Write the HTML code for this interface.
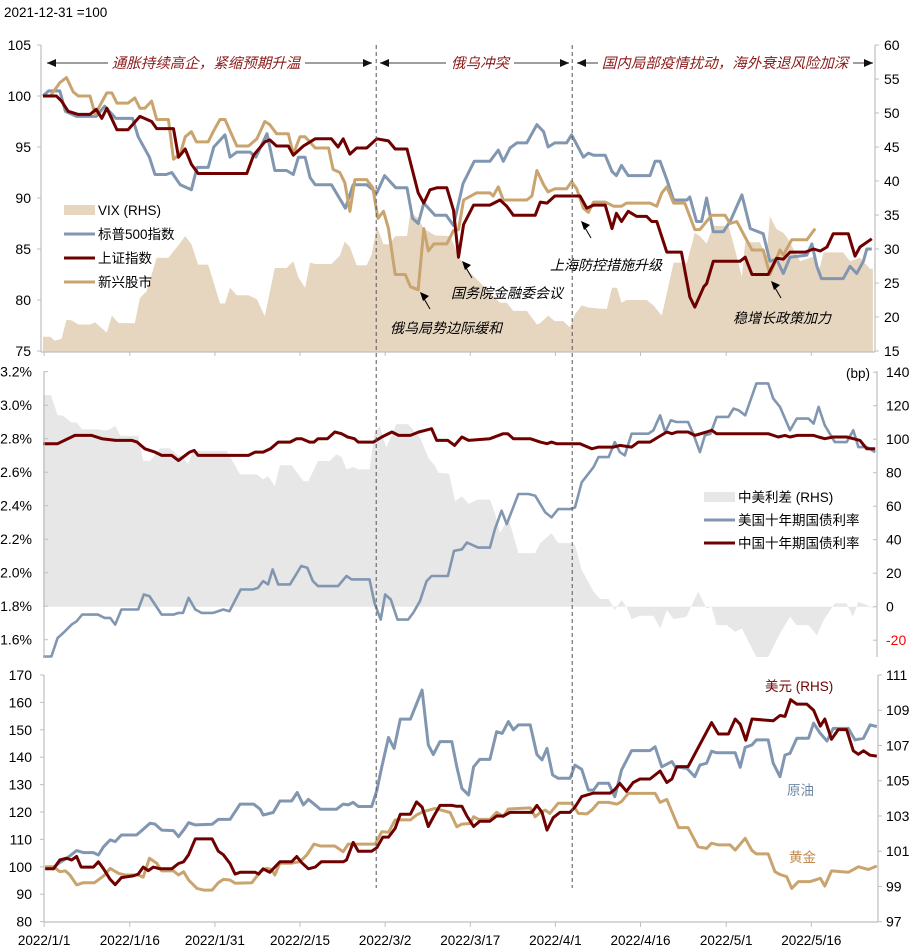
<!DOCTYPE html>
<html><head><meta charset="utf-8">
<style>
html,body{margin:0;padding:0;background:#fff;}
svg{display:block;font-family:"Liberation Sans","Noto Sans CJK SC",sans-serif;}
</style></head>
<body>
<svg id="chart" width="921" height="952" viewBox="0 0 921 952" xmlns="http://www.w3.org/2000/svg">
<text x="4" y="17" font-size="13.5" fill="#000">2021-12-31 =100</text>
<g id="layer"></g>
</svg>
<script>
// ---------- categories ----------
const dateTickLabels = ["2022/1/1","2022/1/16","2022/1/31","2022/2/15","2022/3/2","2022/3/17","2022/4/1","2022/4/16","2022/5/1","2022/5/16"];
const dateTickDays = [0.2,15.5,30.7,45.9,61.1,76.3,91.5,106.7,122,137.2];
const phaseDays = [59.5,94.5];

// ---------- panel 1 ----------
const p1LeftTicks = [105,100,95,90,85,80,75];
const p1RightTicks = [60,55,50,45,40,35,30,25,20,15];
const spxDays = [0,1,3,4,6,9.5,11,13,16,17,19,20,22,23,24.5,26.5,27.5,29.5,30.5,32.5,33.4,34.6,37,38,40,41.4,43.5,44.7,45.6,46.8,47.7,48.6,51.5,54,55.4,57.8,59.6,61,63,65,66,67,68,70,72,73.3,75,77,79.8,81.3,82.2,83.4,84.6,86.4,88.2,89.4,90.2,91.4,93.5,94.4,96.5,97.4,98.3,100.4,101.6,102.4,103.3,104.5,108.4,109.3,110.2,111.4,112.6,115,115.5,116.7,117.6,118.5,119.7,121.5,122.7,124.8,126.3,128.6,129.8,131,132.2,133.4,136.4,137.3,138.2,139,142.9,144.1,145.3,146.5,147.1,148];
const spxVals = [100,100.5,100.5,98.5,98,98,99,97.8,97.8,96,94,92.3,92.3,92.5,91.3,90.8,93,93,95,96.2,94,94.5,94.5,94,96.3,92.7,92.7,92.3,94,94,92,91.3,91.3,89,91.3,91.3,90.5,92.2,91,91,88,87.5,89.5,88.3,88.3,87.3,91.4,93.6,93.6,94.7,93.6,94.9,95.4,95.4,97.2,96.5,95,95.4,95.4,96.2,94,94.4,94.2,94.2,92.6,92.2,93.2,92.2,92.2,93.6,93.6,91.8,89.8,89.8,90.1,87.7,87.7,90,86.7,86.7,87.7,90.3,87,86.5,83.8,84,82.6,84.2,84.4,85.5,83.3,82.1,82.1,83.3,82.6,83.8,85,85];
const shDays = [0,2.4,3.3,4.5,6.3,8.4,9.5,10.5,11.4,13.2,15.2,17.3,19.4,20.3,23.3,24.2,25.4,26.5,27.7,36.4,37.6,39.6,40.5,41.7,43.8,44.7,46.5,48.6,51.5,52.7,53.6,54.8,56,57.8,59.6,61.7,62.9,65,67,68,69.1,70.3,72.1,73.3,74.2,75.1,76.9,79.8,81.6,82.8,84,87.9,88.8,90,91.4,95.9,97.1,98.3,100.4,101.6,102.4,103.3,104.5,106,107.8,108.7,109.6,111.4,114,115.5,116.4,118,118.5,119.7,124.5,125.4,126.6,129.5,131,132.2,133.4,136.1,137.6,138.8,140,141.1,143.8,145,145.9,148];
const shVals = [100,100,99.5,98.5,98.2,98.2,98.7,97.8,98.8,96.7,96.7,98,97.5,96.8,96.8,94,94.8,93.3,92.4,92.4,94.2,95.5,95.7,95.1,95.1,94.2,95.1,95.8,95.8,95,95.8,94.3,94.9,94.9,95.8,95.6,94.8,94.8,90.5,89.5,90.8,91,91,88.8,84.2,87.4,89.3,89.3,89.8,89.2,88.3,88.3,89.6,89.5,90.2,90.2,89,89.3,89.3,87,88.5,87.7,88.7,88.2,88.2,87.7,87.7,84.7,84.7,80.3,79.3,81.3,81.6,83.8,83.8,84.2,82.5,82.5,84.1,84,84.7,84.7,85,84.8,85.2,86.5,86.5,84.3,85.2,86];
const emDays = [0,1.3,3,4.2,5.4,6.3,8.4,9.3,11.4,12.3,13.2,15.2,16.4,17.3,18.2,19.4,20.3,22.4,23.3,24.5,25.4,26.5,27.4,29.5,30.4,31.6,32.5,34.6,36.7,38.2,39.6,40.5,41.7,43.8,44.7,45.9,46.8,48.6,51,51.8,53,53.9,54.8,55.7,57.8,58.9,59.8,60.8,61.7,62.9,64.7,65.6,67,68,68.8,69.8,72.1,73.3,74.2,75.1,77.4,79.8,80.4,81.3,82.2,86.4,87.3,88.2,89.4,90.2,91.4,93.5,94.4,95.3,96.5,97.4,98.3,100.4,101.9,103.3,104.2,108.4,109.6,110.5,111.4,112.6,114.6,116.4,117.3,119.4,121.8,122.7,123.9,126.6,128.6,129.8,131.6,132.2,133.7,136.4,137.9];
const emVals = [100,100,101.3,101.8,100.4,100,100,98.2,100.3,100.3,99.3,99.3,99.8,98.8,98.8,99.5,97.7,97.7,93.8,94.3,96,96.5,95.5,95.5,96.5,97.7,97.7,95.1,95.1,95.8,97.5,97.2,96.3,96.3,94.3,96,96,94.9,94.9,92.8,92.5,91.5,88.7,91.8,91.8,91,88,88.7,87,82.5,82.5,81.3,81,87,84.8,85.5,85.5,86.8,86.9,89.8,90.5,90.5,90.2,91.1,89.8,89.8,90.2,92.7,91.3,90.6,90.9,90.9,91.6,90.9,89,88.6,89.6,89.6,89.2,89.2,89.5,89.5,89.2,90.5,91.1,89.5,89.5,86.9,86.9,88.3,88.3,87.5,87.7,84.9,84.9,82.5,84.9,84.4,85.9,85.9,87];
const vixDays = [0,1.3,2.1,3.3,4.2,5.1,6.3,8.4,9.3,11.4,12.3,13.5,16.4,17.3,18.5,20.3,22.4,24.5,25.4,26.5,27.7,29.5,31.6,32.5,33.4,34.6,36.7,38.2,39.6,41.4,43.5,44.7,45.6,46.8,47.7,48.6,51.5,53,53.9,54.8,56,57.8,58.7,59.6,60.8,61.9,62.9,65,65.6,67,68,70,72.7,74.5,76.3,78.6,80.4,81.6,82.8,84,86.4,88.2,88.8,90.2,91.4,92.9,94.1,95,96.2,97.4,99.5,100.7,101.6,102.5,103.3,104.2,107.8,109,110.5,112.6,115,116.4,117.3,118.5,119.7,122.4,123.3,124.8,125.4,128,129.2,129.8,131,132.2,133.1,135.2,137.6,138.5,139.4,142.9,144.1,145.9,147.7,148.2];
const vixVals = [17.1,17.1,16.5,16.8,19.6,19.5,18.9,18.9,19.2,17.7,20.2,19.1,19.1,22.8,23.8,28.7,28.7,30.9,31.9,30.7,27.7,27.7,22,22,24.3,23.2,23.2,22.6,20.1,27.2,27.2,28.2,25.8,24.3,28,27.8,27.8,29,31.1,30.3,27.6,27.6,29.2,33.4,30.7,30.7,31.9,31.9,35.4,34.5,33,32,31.9,28.5,26.5,24.6,23.1,22.1,22.1,20.9,20.9,18.9,19.1,20.2,19.4,19.4,18.5,20.4,21.7,21.4,21.2,21.2,24.3,24.3,22.1,22.5,22.5,21.7,20.2,28,28,32.4,31.9,30.8,33.4,33.4,30.8,25.9,31,31,29,34.8,32.9,32.4,31.4,28.2,28.9,26.6,29.5,29.5,28.2,28.7,27.1,27.1];

// ---------- panel 2 ----------
const p2LeftTicks = ["3.2%","3.0%","2.8%","2.6%","2.4%","2.2%","2.0%","1.8%","1.6%"];
const p2LeftTickVals = [3.2,3.0,2.8,2.6,2.4,2.2,2.0,1.8,1.6];
const p2RightTicks = [140,120,100,80,60,40,20,0,-20];
const usDays = [0,1.5,2.6,3.6,5.1,6,7,9.8,11,12,12.9,14,17,18,19,21.2,23.3,24.2,25,26,27.2,28.3,30.4,32.2,33.3,35.3,37.5,38.4,39.3,40.2,41,42,44.1,46.1,47.2,48.2,49.1,52.7,54.2,55.1,58.3,59.2,60.3,61.1,62.1,63.3,65.2,66.1,67.3,68.5,69.4,72.3,73.4,74.8,75.7,77.7,79.8,80.7,81.9,82.8,84.9,86.7,87.9,89.7,90.8,92,94.1,95,96.2,98.3,99.2,101,102.1,103,103.9,105.1,108.1,109,110.2,111.1,112.1,113.1,115.2,116.1,117.3,118.2,119.2,120.3,122.4,123.3,124.2,125.4,127.4,129.5,130.4,131.6,133.4,134.6,136.7,137.6,138.5,139.6,141.4,143.5,144.7,145.6,147.1,148.6];
const usVals = [1.5,1.5,1.61,1.64,1.69,1.71,1.75,1.75,1.73,1.73,1.69,1.78,1.78,1.87,1.86,1.75,1.75,1.76,1.76,1.85,1.78,1.76,1.76,1.78,1.77,1.9,1.9,1.91,1.95,1.93,2.02,1.93,1.93,2.04,2.03,1.95,1.92,1.92,1.98,1.96,1.96,1.82,1.72,1.87,1.84,1.72,1.72,1.76,1.83,1.95,1.98,1.98,2.13,2.14,2.18,2.15,2.15,2.26,2.37,2.29,2.47,2.47,2.46,2.36,2.33,2.38,2.38,2.39,2.54,2.63,2.69,2.69,2.78,2.72,2.7,2.83,2.83,2.85,2.94,2.84,2.91,2.9,2.9,2.83,2.72,2.82,2.83,2.93,2.93,2.98,2.97,2.94,3.13,3.13,3.04,2.99,2.85,2.92,2.92,2.89,2.99,2.88,2.78,2.78,2.85,2.75,2.75,2.72];
const cnDays = [0,2.6,5.7,8.7,10.5,13,15.9,16.8,18.2,20,21.2,23,24.2,26.2,27,27.7,36.7,37.9,39.3,40.6,42,44.1,45.3,46.2,47.6,48.4,49.1,50.8,52.1,53.3,54.4,55.6,56.3,59,60.5,62.3,63.5,65.6,67.1,68.3,69.4,70.3,72.3,73.5,74.8,76,79.8,82.2,83,84,87,88.8,90,90.8,91.7,95.9,98,99.2,101.9,103,105.1,106.3,108.4,109.9,111.4,112.3,113.2,115.2,116.4,118.5,119.4,120.3,125.7,126.6,129.5,131.3,132.5,133.4,134.6,137.6,138.5,139.6,141.1,143.5,144.7,145.9,147.1,148.6];
const cnVals = [2.77,2.77,2.82,2.82,2.8,2.79,2.79,2.78,2.74,2.72,2.7,2.7,2.67,2.72,2.73,2.7,2.7,2.72,2.72,2.74,2.78,2.78,2.8,2.8,2.78,2.78,2.8,2.8,2.84,2.83,2.81,2.8,2.78,2.78,2.81,2.84,2.82,2.82,2.84,2.85,2.86,2.79,2.79,2.76,2.81,2.79,2.8,2.83,2.83,2.8,2.8,2.78,2.77,2.78,2.77,2.77,2.74,2.75,2.75,2.76,2.75,2.78,2.78,2.81,2.84,2.83,2.84,2.84,2.82,2.84,2.85,2.83,2.83,2.83,2.83,2.81,2.82,2.81,2.82,2.82,2.81,2.8,2.81,2.81,2.8,2.79,2.74,2.74];
const spreadDays = [0,1.4,2.6,3.6,5.1,6,7,9.8,11,12,12.9,13.8,17,17.9,19.1,20.9,22.6,23.9,25,25.9,26.8,31,32.8,35.2,38.2,39.3,40.2,41.4,42.3,44.4,46.5,47.4,49.1,51.2,52.4,53.3,54.2,55.4,56.3,58.3,59.2,60.1,61.3,63.1,65.2,67.3,68.8,70,70.6,72.5,73.6,74.8,76,77.7,79.8,80.7,81.6,83.1,84.9,87.9,88.8,90.8,92,94.1,95,96.2,98.3,99.5,101,102.1,103.3,104.2,105.1,106.6,109,110.2,111.4,112.6,114.9,117,118.5,119.4,120.3,122.1,123.6,124.8,127.4,129.5,131.6,133.4,134.6,136.7,138.2,139.4,141.4,143.5,144.6,145.6,147.1,148.3];
const spreadVals = [126.4,126.4,114.4,114,110,110,106,106,105,106,108,102,102,87,87,94.6,94.6,91,89,85,93,93,93,79,79,76,78,72,84.4,84.4,75,75,87,87,91,89.4,82,83.4,82,82,103.4,108,95,109,109,101,89,84,80,79.4,63,66,61.4,64,64,56,44,53,32,32,38,44,38,38,37,22,9,4.6,4.6,-2,4,0,-7.4,-5.4,-5.4,-13,-2,-7.4,-6,9,-1,0,-11,-11,-15,-13,-30,-30,-16,-6,-11,-11,-17,-8,2,2,-6,3,1,-1];

// ---------- panel 3 ----------
const p3LeftTicks = [170,160,150,140,130,120,110,100,90,80];
const p3RightTicks = [111,109,107,105,103,101,99,97];
const oilDays = [0.4,1.9,3,4.2,6,7.2,9,9.9,10.8,12,12.9,14,16.7,17.9,19.1,20,21.2,23.3,24.2,25.1,26,27.2,30.2,31.3,33.4,35.2,37.6,38.8,39.3,41.1,42.3,44.4,45.4,46.5,47.4,48.6,49.5,52.4,53.6,54.5,55.4,56.3,58.7,59.6,60.5,61.7,62.7,63.8,65.6,67.7,68.8,69.7,70.9,73,73.9,74.8,76,76.9,78,79.8,81,82,83.1,84,84.9,87,88.2,89.1,90,91,92,94.1,95,96.2,97.4,98.3,99.2,101,102.1,103.3,105.1,108.4,109.3,110.5,112.3,112.9,115,116.4,117.3,118.5,119.4,120.3,123.6,124.5,125.4,126.6,127.4,129.5,130.4,131.6,132.5,133.4,134.6,136.7,137.6,138.8,140,141.1,143.8,145,146.5,147.7,148.9];
const oilVals = [99.8,99.8,101.6,103,105.9,105.2,105.2,104.3,107.3,109.8,109.2,111.6,111.6,113.7,115.9,115.6,113.4,113.2,111,113.4,116.1,115.3,115.5,117.3,117.3,122.9,122.9,121,118.9,119.8,124,124,127.1,122.6,124.6,122.6,121,121,122.9,122.6,123.5,122,122,127.8,136.5,147.2,143.2,153.9,153.9,164.5,144.5,141,145.7,145.7,136.5,128.6,126.2,136.5,139.2,139.2,149.3,148.7,153,150,151.8,151.8,141,139,143.2,133.5,132.3,132.3,137.1,135.6,128,128,130.5,130.5,125.6,135.3,142.4,142.4,143.8,136.5,138.4,136.5,135.9,132.9,137.1,137.8,142.2,141.6,141.6,136.3,143.6,144.5,146.3,146.3,137.8,132.9,140.8,141.4,146.9,146.9,152.4,148.7,145.9,150.5,150.5,146.3,146.9,151.8,151.2];
const goldDays = [0.4,1.9,3,4,4.8,6,7.2,9.2,10.8,12,13.5,14.7,17,17.9,19,20.3,21.2,23.3,24.2,25.1,26,27.5,28.7,30.2,31.3,32.2,33.4,34.3,37.3,38.8,39.9,40.8,41.4,42.3,44.4,45.9,47.1,48.4,49.5,52.1,53.6,54.5,59.3,60.5,61.7,62.9,65.6,66.7,67.9,70,72.7,73.9,74.8,76.3,76.9,77.8,79.8,81,82.2,83.1,87,87.9,88.8,89.7,90.5,92,94.4,95.6,97.1,98,99.2,101,102.5,103.3,104.5,109.3,110.2,111.4,112.3,113.5,115.2,117,118.5,119.4,120.6,122.7,123.6,125.4,126.6,127.4,129.5,130.7,131.6,132.8,133.7,134.9,137,138.8,139.6,140.8,143.8,145.6,147.4,148.9];
const goldVals = [100,100,98.2,98.5,97,93.4,94.2,94.2,96.6,99.4,97.6,97,97,96.2,103.1,101.3,98.5,98.5,97,98.2,95.2,92.1,91.5,91.5,94.2,95.4,95.2,94,94.2,98.2,99.4,99,97,101.3,101.3,101.9,104.3,108.3,107.6,107.6,105.5,108.3,108.3,112.8,112.6,117.1,117.1,118.9,120.1,121.3,119.8,114.6,115.6,115.8,118.3,117.3,117.3,119.9,118.3,121.1,121.5,118.3,119.8,120.7,119.5,123.2,123.2,119.5,119.3,120.7,123.5,123.5,122.9,123.8,126.8,126.8,123.5,124.6,120.1,114.3,114.3,107.3,106.7,108.6,108,108,106.1,110.4,105.9,104.7,104.7,98.2,97.2,96.4,92.1,94.6,94.6,95.8,93,98.5,98,100,99,100.3];
const usdDays = [0.4,1.9,3,4.2,5.1,6,6.8,9,9.9,10.8,12,12.9,14,16.1,17,17.9,18.8,19.7,20.9,23,24.2,25.1,26,27.2,30.2,31.3,32.2,33.4,34.3,35.2,37.9,38.5,39.3,40.5,42.3,44.4,45.3,46.2,47.4,48.6,49.7,52.4,53.6,54.2,55.4,56.3,58.7,59.6,60.7,61.7,62.9,63.8,65.6,66.7,67.7,68.8,69.8,70.9,73,73.9,74.8,75.7,76.9,78,79.8,81,82.2,83.4,87.3,88.2,89.1,90,91.1,92.3,94.1,95,96.2,98.3,101.3,102.1,103,104.2,105.4,106.6,108.4,110.2,111.4,112.3,113.2,115.2,116.7,119.4,120.6,122.4,123.6,124.5,125.5,126.6,130.4,131.6,132.5,133.5,134.6,136.4,137.6,138.8,139.6,140.8,142,143.5,144.7,145.6,146.5,147.7,148.9];
const usdVals = [100,100,100.5,100.6,100.5,100.7,100.1,100.1,100.4,100,99.4,99.1,99.5,99.6,99.7,100.1,99.9,100.1,100,100,100.3,100.4,100.8,101.7,101.7,101,100.8,100.3,99.7,99.8,99.8,99.7,100,99.8,100.4,100.4,100.7,100.35,100,100.1,100.4,100.4,100.4,100.5,101.5,101,101,101.2,101.8,101.8,102.3,103.1,103.1,103.8,103.5,102.4,103,103.6,103.6,103.55,103.55,103,102.4,102.7,102.7,103,103,103.2,103.2,103.6,103.2,102.2,102.9,103.2,103.2,103.5,104.1,104.3,104.3,104.5,104.85,104.4,104.9,105.1,105.1,105.55,104.9,105.1,105.8,105.8,106.7,108.3,107.65,107.65,108.5,108.2,107.3,108.5,108.4,108.7,108.65,109.6,109.35,109.35,109,108.1,108.5,107.35,107.9,107.9,106.7,106.5,106.7,106.45,106.4];

// ---------- scales ----------
const xS = d => 43 + 5.6 * d;
const y1L = v => 96 + (100 - v) * 10.2;
const y1R = v => 45 + (60 - v) * 6.8;
const y2L = r => 371.7 + (3.2 - r) * 167.5;
const y2R = b => 606.7 - b * 1.675;
const y3L = v => 675 + (170 - v) * 2.74;
const y3R = u => 675 + (111 - u) * 17.62;

const NS = "http://www.w3.org/2000/svg";
const layer = document.getElementById("layer");
function mk(tag, attrs, parent) {
  const e = document.createElementNS(NS, tag);
  for (const k in attrs) e.setAttribute(k, attrs[k]);
  (parent || layer).appendChild(e);
  return e;
}
function linePath(days, vals, ys) {
  return days.map((d, i) => (i ? "L" : "M") + xS(d).toFixed(1) + "," + ys(vals[i]).toFixed(1)).join("");
}
function areaPath(days, vals, ys, base) {
  let p = "M" + xS(days[0]).toFixed(1) + "," + base;
  days.forEach((d, i) => { p += "L" + xS(d).toFixed(1) + "," + ys(vals[i]).toFixed(1); });
  return p + "L" + xS(days[days.length - 1]).toFixed(1) + "," + base + "Z";
}
function txt(x, y, s, opts, name) {
  const t = mk("text", Object.assign({x: x, y: y, "font-size": 14, fill: "#000"}, opts || {}));
  t.textContent = s;
  
  
  return t;
}

const AX = "#BFBFBF";
const BLUE = "#8196B0", RED = "#6E0000", TAN = "#C9A46E", VIXC = "#E6D6C0", SPRC = "#E7E7E7";

// ===== Panel 1 =====
const vixArea = mk("path", {d: areaPath(vixDays, vixVals, y1R, 352), fill: VIXC});


[[spxDays, spxVals, BLUE, 'sp500-line', 3], [emDays, emVals, TAN, 'em-stocks-line', 3], [shDays, shVals, RED, 'shanghai-index-line', 3]].forEach(s => {
  const p = mk("path", {d: linePath(s[0], s[1], y1L), fill: "none", stroke: s[2], "stroke-width": s[4], "stroke-linejoin": "round"});
  
  
});
mk("line", {x1: 41, y1: 45, x2: 41, y2: 352, stroke: AX, "stroke-width": 1.2});
mk("line", {x1: 875, y1: 45, x2: 875, y2: 352, stroke: AX, "stroke-width": 1.2});
mk("line", {x1: 41, y1: 352, x2: 875, y2: 352, stroke: AX, "stroke-width": 1.2});
p1LeftTicks.forEach(v => {
  mk("line", {x1: 37, y1: y1L(v), x2: 41, y2: y1L(v), stroke: AX});
  txt(31, y1L(v) + 5, String(v), {"text-anchor": "end"}, 'p1-left-tick-label');
});
p1RightTicks.forEach(v => {
  mk("line", {x1: 875, y1: y1R(v), x2: 879, y2: y1R(v), stroke: AX});
  txt(884, y1R(v) + 5, String(v), {}, 'p1-right-tick-label');
});
dateTickDays.forEach(d => mk("line", {x1: xS(d), y1: 352, x2: xS(d), y2: 356, stroke: AX}));

// top phase arrows
const arrowY = 63;
function seg(x1, x2) { mk("line", {x1: x1, y1: arrowY, x2: x2, y2: arrowY, stroke: "#7f7f7f", "stroke-width": 1.5}); }
function head(x, dir) { mk("path", {d: `M${x},${arrowY}L${x - dir * 9},${arrowY - 4}L${x - dir * 9},${arrowY + 4}Z`, fill: "#111"}); }
seg(47, 108); seg(305, 372); head(47, -1); head(372, 1);
seg(380, 446); seg(514, 569); head(380, -1); head(569, 1);
seg(577, 598); seg(853, 873); head(577, -1); head(873, 1);
const phaseStyle = {fill: "#8B1A1A", "font-style": "italic", "font-size": 14.5, "text-anchor": "middle"};
txt(206, 68, "通胀持续高企，紧缩预期升温", phaseStyle, 'phase-label-inflation');
txt(480, 68, "俄乌冲突", phaseStyle, 'phase-label-conflict');
txt(725, 68, "国内局部疫情扰动，海外衰退风险加深", phaseStyle, 'phase-label-covid');

// event annotations
function ann(tx, ty, ax, ay, s, name) {
  mk("line", {x1: ax + 10, y1: ay + 17, x2: ax + 3, y2: ay + 5, stroke: "#000", "stroke-width": 1});
  mk("path", {d: `M${ax},${ay}L${ax + 9},${ay + 4}L${ax + 3},${ay + 9}Z`, fill: "#000"});
  txt(tx, ty, s, {"font-style": "italic", "font-size": 14}, name);
}
ann(390, 333, 420, 292, "俄乌局势边际缓和", 'annotation-ease');
ann(451, 298, 462, 261, "国务院金融委会议", 'annotation-fsdc');
ann(550, 270, 581, 221, "上海防控措施升级", 'annotation-shanghai');
ann(733, 323, 771, 281, "稳增长政策加力", 'annotation-stimulus');

// legend 1
const lg1 = [["VIX (RHS)", VIXC, 'legend-vix', true], ["标普500指数", BLUE, 'legend-sp500'], ["上证指数", RED, 'legend-shanghai'], ["新兴股市", TAN, 'legend-em']];
lg1.forEach((l, i) => {
  const yy = 210 + i * 24;
  if (l[3]) mk("rect", {x: 64, y: yy - 5, width: 31, height: 10, fill: l[1]});
  else mk("line", {x1: 64, y1: yy, x2: 95, y2: yy, stroke: l[1], "stroke-width": 3});
  txt(98, yy + 5, l[0], {"font-size": 13.5}, l[2]);
});

// ===== Panel 2 =====
const sprArea = mk("path", {d: areaPath(spreadDays, spreadVals, y2R, y2R(0)), fill: SPRC});


[[usDays, usVals, BLUE, 'us10y-line', 2.6], [cnDays, cnVals, RED, 'cn10y-line', 3]].forEach(s => {
  const p = mk("path", {d: linePath(s[0], s[1], y2L), fill: "none", stroke: s[2], "stroke-width": s[4], "stroke-linejoin": "round"});
  
  
});
mk("line", {x1: 44, y1: 371, x2: 44, y2: 657, stroke: AX, "stroke-width": 1.2});
mk("line", {x1: 877, y1: 371, x2: 877, y2: 657, stroke: AX, "stroke-width": 1.2});
p2LeftTickVals.forEach((v, i) => {
  mk("line", {x1: 44, y1: y2L(v), x2: 48, y2: y2L(v), stroke: AX});
  txt(32, y2L(v) + 5, p2LeftTicks[i], {"text-anchor": "end"}, 'p2-left-tick-label');
});
p2RightTicks.forEach(v => {
  mk("line", {x1: 873, y1: y2R(v), x2: 877, y2: y2R(v), stroke: AX});
  txt(886, y2R(v) + 5, String(v), {fill: v < 0 ? "#FF0000" : "#000"}, 'p2-right-tick-label');
});
txt(870, 378, "(bp)", {"text-anchor": "end", "font-size": 13.5}, 'bp-unit-label');
const lg2 = [["中美利差 (RHS)", SPRC, 'legend-spread', true], ["美国十年期国债利率", BLUE, 'legend-us10y'], ["中国十年期国债利率", RED, 'legend-cn10y']];
lg2.forEach((l, i) => {
  const yy = 497 + i * 23;
  if (l[3]) mk("rect", {x: 704, y: yy - 5, width: 31, height: 10, fill: l[1]});
  else mk("line", {x1: 704, y1: yy, x2: 735, y2: yy, stroke: l[1], "stroke-width": 3});
  txt(738, yy + 5, l[0], {"font-size": 13.5}, l[2]);
});

// ===== Panel 3 =====
[[oilDays, oilVals, BLUE, 'oil-line', y3L, 3], [goldDays, goldVals, TAN, 'gold-line', y3L, 3], [usdDays, usdVals, RED, 'usd-line', y3R, 3]].forEach(s => {
  const p = mk("path", {d: linePath(s[0], s[1], s[4]), fill: "none", stroke: s[2], "stroke-width": s[5], "stroke-linejoin": "round"});
  
  
});
mk("line", {x1: 44, y1: 675, x2: 44, y2: 922, stroke: AX, "stroke-width": 1.2});
mk("line", {x1: 878, y1: 675, x2: 878, y2: 922, stroke: AX, "stroke-width": 1.2});
mk("line", {x1: 44, y1: 922, x2: 878, y2: 922, stroke: AX, "stroke-width": 1.2});
p3LeftTicks.forEach(v => {
  mk("line", {x1: 40, y1: y3L(v), x2: 44, y2: y3L(v), stroke: AX});
  txt(32, y3L(v) + 5, String(v), {"text-anchor": "end"}, 'p3-left-tick-label');
});
p3RightTicks.forEach(v => {
  mk("line", {x1: 878, y1: y3R(v), x2: 882, y2: y3R(v), stroke: AX});
  txt(886, y3R(v) + 5, String(v), {}, 'p3-right-tick-label');
});
dateTickDays.forEach((d, i) => {
  mk("line", {x1: xS(d), y1: 922, x2: xS(d), y2: 927, stroke: AX});
  txt(xS(d), 945, dateTickLabels[i], {"text-anchor": "middle", "font-size": 13.5}, 'x-tick-label');
});
txt(765, 691, "美元 (RHS)", {fill: RED, "font-size": 13.5}, 'usd-label');
txt(787, 795, "原油", {fill: "#6F86A5", "font-size": 13.5}, 'oil-label');
txt(789, 862, "黄金", {fill: "#C08A4E", "font-size": 13.5}, 'gold-label');

// phase dividers
phaseDays.forEach(d => {
  const l = mk("line", {x1: xS(d), y1: 45, x2: xS(d), y2: 888, stroke: "#555", "stroke-width": 1, "stroke-dasharray": "4,3"});
  
  
});
</script>
</body></html>
